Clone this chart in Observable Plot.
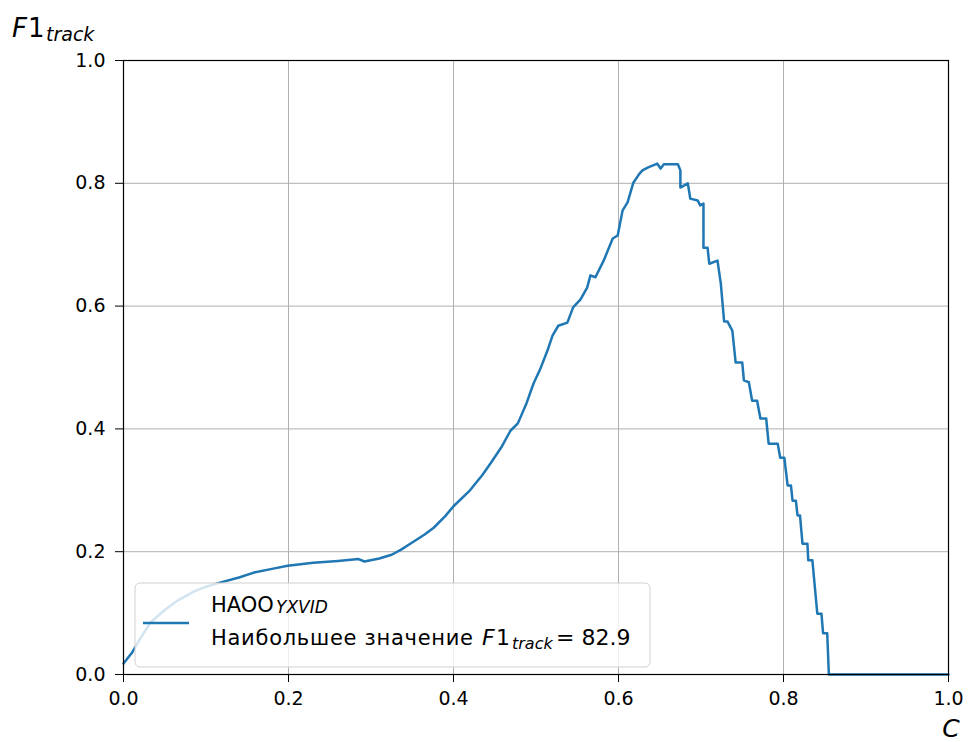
<!DOCTYPE html>
<html>
<head>
<meta charset="utf-8">
<script src="https://cdn.jsdelivr.net/npm/d3@7"></script>
<script src="https://cdn.jsdelivr.net/npm/@observablehq/plot@0.6"></script>
<style>
  body { margin: 0; background: #fff; }
  #chart svg { display: block; overflow: visible; }
</style>
</head>
<body>
<div id="chart"></div>
<script>
const C = [0.000,0.010,0.020,0.033,0.050,0.065,0.085,0.100,0.118,0.140,0.158,0.180,0.199,0.230,0.260,0.285,0.292,0.310,0.325,0.336,0.350,0.365,0.376,0.390,0.400,0.420,0.435,0.445,0.458,0.469,0.478,0.488,0.497,0.505,0.514,0.520,0.527,0.538,0.545,0.554,0.562,0.566,0.572,0.582,0.593,0.599,0.605,0.611,0.618,0.625,0.629,0.636,0.647,0.651,0.655,0.672,0.675,0.675,0.684,0.687,0.696,0.699,0.703,0.703,0.708,0.710,0.720,0.724,0.728,0.732,0.738,0.742,0.750,0.752,0.758,0.762,0.768,0.772,0.779,0.782,0.793,0.796,0.801,0.805,0.809,0.811,0.815,0.817,0.820,0.823,0.829,0.830,0.835,0.841,0.846,0.848,0.853,0.855,1.000];
const F1 = [0.018,0.035,0.058,0.085,0.105,0.120,0.135,0.143,0.150,0.158,0.166,0.172,0.177,0.182,0.185,0.188,0.184,0.189,0.195,0.203,0.215,0.228,0.239,0.258,0.274,0.300,0.325,0.344,0.370,0.397,0.409,0.440,0.474,0.497,0.528,0.552,0.568,0.573,0.598,0.611,0.630,0.650,0.647,0.674,0.710,0.715,0.756,0.769,0.801,0.815,0.821,0.826,0.832,0.824,0.831,0.831,0.821,0.793,0.800,0.775,0.772,0.764,0.767,0.695,0.695,0.669,0.674,0.637,0.575,0.575,0.560,0.508,0.508,0.479,0.476,0.446,0.446,0.417,0.417,0.376,0.376,0.353,0.353,0.308,0.308,0.283,0.283,0.259,0.259,0.213,0.213,0.186,0.186,0.099,0.099,0.067,0.067,0.000,0.000];
const xTicks = [0, 0.2, 0.4, 0.6, 0.8, 1.0];
const yTicks = [0, 0.2, 0.4, 0.6, 0.8, 1.0];
const seriesName = "HAOO";
const seriesSub = "YXVID";
const bestLabel = "Наибольшее значение";
const bestValue = "82.9";

const data = C.map((c, i) => ({c, f: F1[i]}));
const blue = "#1f77b4";

const plot = Plot.plot({
  width: 970,
  height: 742,
  marginLeft: 123,
  marginRight: 22,
  marginTop: 60,
  marginBottom: 68,
  style: {fontFamily: "DejaVu Sans", fontSize: "19px", color: "#000", background: "#fff", overflow: "visible"},
  x: {domain: [0, 1], ticks: xTicks, tickFormat: d3.format(".1f"), label: null},
  y: {domain: [0, 1], ticks: yTicks, tickFormat: d3.format(".1f"), label: null},
  marks: [
    Plot.gridX(xTicks, {stroke: "#b0b0b0", strokeOpacity: 1, strokeWidth: 1}),
    Plot.gridY(yTicks, {stroke: "#b0b0b0", strokeOpacity: 1, strokeWidth: 1}),
    Plot.line(data, {x: "c", y: "f", stroke: blue, strokeWidth: 2.5, curve: "linear"}),
    Plot.frame({stroke: "#000", strokeWidth: 1.2}),
    Plot.axisX({ticks: xTicks, tickFormat: d3.format(".1f"), tickSize: 8, tickPadding: 9, label: null, fontSize: 19}),
    Plot.axisY({ticks: yTicks, tickFormat: d3.format(".1f"), tickSize: 8, tickPadding: 10, label: null, fontSize: 19})
  ]
});

const svg = d3.select(plot);
// Legend
const lg = svg.append("g").attr("font-family", "DejaVu Sans").attr("text-anchor", "start");
lg.append("rect").attr("x", 135).attr("y", 583).attr("width", 515).attr("height", 84)
  .attr("rx", 5).attr("fill", "#fff").attr("fill-opacity", 0.8)
  .attr("stroke", "#d0d0d0").attr("stroke-width", 1);
lg.append("line").attr("x1", 143).attr("x2", 189).attr("y1", 623).attr("y2", 623)
  .attr("stroke", blue).attr("stroke-width", 2.5);
const t1 = lg.append("text").attr("y", 612).attr("font-size", 21).attr("fill", "#000");
t1.append("tspan").attr("x", 211).text(seriesName);
t1.append("tspan").attr("x", 276).attr("font-style", "italic").attr("font-size", 17).attr("dy", 1).text(seriesSub);
const t2 = lg.append("text").attr("y", 645).attr("font-size", 21).attr("fill", "#000");
t2.append("tspan").attr("x", 211).attr("textLength", 262).attr("lengthAdjust", "spacing").text(bestLabel);
t2.append("tspan").attr("x", 482).attr("font-style", "italic").attr("font-size", 22).text("F");
t2.append("tspan").attr("x", 496).attr("font-size", 22).text("1");
t2.append("tspan").attr("x", 512).attr("font-style", "italic").attr("font-size", 16).attr("dy", 4).text("track");
t2.append("tspan").attr("x", 556).attr("dy", -4).attr("font-size", 22).text("= " + bestValue);

// Axis labels
const yl = svg.append("text").attr("y", 37).attr("text-anchor", "start")
  .attr("font-family", "DejaVu Sans").attr("font-size", 26).attr("fill", "#000");
yl.append("tspan").attr("x", 12).attr("font-style", "italic").text("F");
yl.append("tspan").attr("x", 28).text("1");
yl.append("tspan").attr("x", 46).attr("font-style", "italic").attr("font-size", 19).attr("dy", 4).text("track");
svg.append("text").attr("x", 951).attr("y", 737).attr("text-anchor", "middle")
  .attr("font-family", "DejaVu Sans").attr("font-style", "italic").attr("font-size", 25)
  .attr("fill", "#000").text("C");

document.getElementById("chart").appendChild(plot);
</script>
</body>
</html>
